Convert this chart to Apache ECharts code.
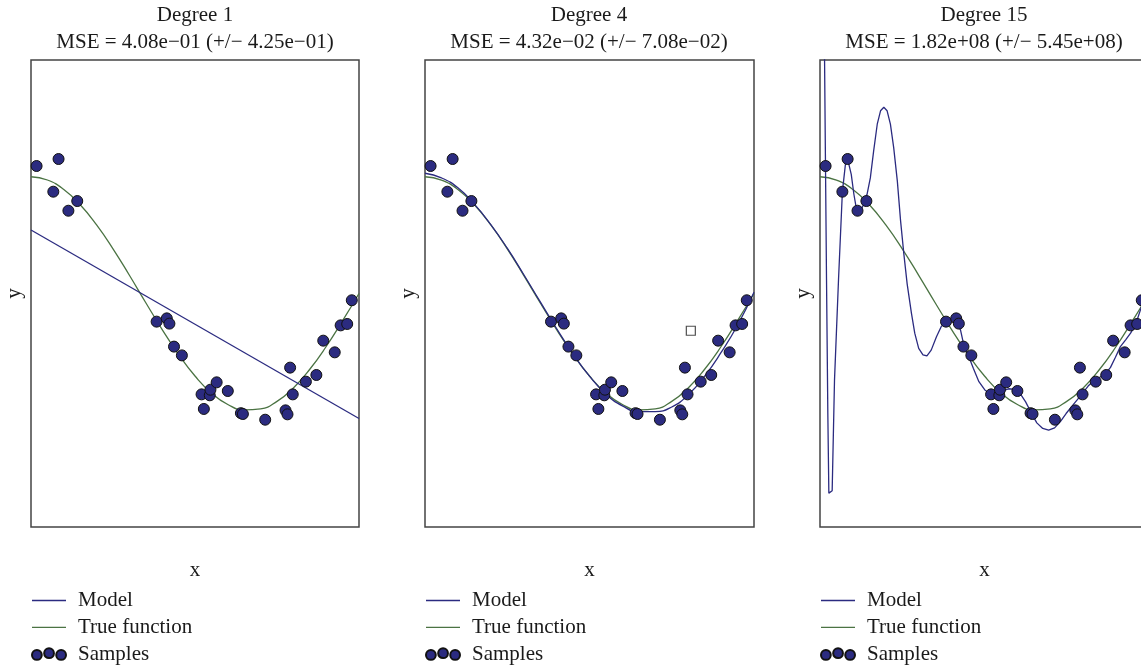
<!DOCTYPE html>
<html>
<head>
<meta charset="utf-8">
<script src="https://cdn.jsdelivr.net/npm/echarts@6/dist/echarts.min.js"></script>
<style>
html,body{margin:0;padding:0;background:#fff;}
#chart{width:1141px;height:665px;}
</style>
</head>
<body>
<div id="chart"></div>
<script>
// ---- Data ----
const degreeLabels = ['Degree 1', 'Degree 4', 'Degree 15'];
const mseLabels = [
  'MSE = 4.08e\u221201 (+/\u2212 4.25e\u221201)',
  'MSE = 4.32e\u221202 (+/\u2212 7.08e\u221202)',
  'MSE = 1.82e+08 (+/\u2212 5.45e+08)'
];
const legendNames = ['Model', 'True function', 'Samples'];

const sampleX = [0.017, 0.068, 0.084, 0.114, 0.141, 0.383, 0.414, 0.422, 0.436, 0.460,
  0.520, 0.527, 0.545, 0.547, 0.566, 0.600, 0.640, 0.646, 0.714, 0.776,
  0.782, 0.790, 0.798, 0.838, 0.870, 0.891, 0.926, 0.944, 0.964, 0.978];
const sampleY = [1.092, 0.872, 1.152, 0.709, 0.792, -0.241, -0.213, -0.258, -0.455, -0.530,
  -0.864, -0.989, -0.872, -0.824, -0.761, -0.835, -1.025, -1.032, -1.081, -1.001,
  -1.035, -0.635, -0.864, -0.755, -0.698, -0.404, -0.504, -0.273, -0.261, -0.058];

const trueX = [0, 0.05, 0.1, 0.15, 0.2, 0.25, 0.3, 0.35, 0.4, 0.45, 0.5,
  0.55, 0.6, 0.65, 0.7, 0.75, 0.8, 0.85, 0.9, 0.95, 1.0];
const trueY = [1.0, 0.972, 0.891, 0.760, 0.588, 0.383, 0.156, -0.079, -0.309, -0.523, -0.707,
  -0.853, -0.951, -0.997, -0.988, -0.924, -0.809, -0.649, -0.454, -0.233, 0.0];

const deg1X = [0, 1];
const deg1Y = [0.544, -1.071];

const deg4X = [0, 0.05, 0.1, 0.15, 0.2, 0.25, 0.3, 0.35, 0.4, 0.45, 0.5,
  0.55, 0.6, 0.65, 0.7, 0.75, 0.8, 0.85, 0.9, 0.95, 1.0];
const deg4Y = [1.03, 0.99, 0.905, 0.765, 0.590, 0.388, 0.163, -0.070, -0.300, -0.518, -0.708,
  -0.862, -0.962, -1.012, -1.012, -0.972, -0.868, -0.708, -0.505, -0.272, 0.010];

const deg15X = [0, 0.012, 0.0167, 0.0198, 0.0238, 0.0269, 0.037, 0.0441, 0.0563, 0.068,
  0.077, 0.082, 0.088, 0.095, 0.103, 0.110, 0.117, 0.125, 0.135, 0.143,
  0.153, 0.163, 0.174, 0.184, 0.194, 0.204, 0.214, 0.224, 0.235, 0.245,
  0.255, 0.265, 0.278, 0.288, 0.300, 0.313, 0.325, 0.338, 0.354, 0.369,
  0.383, 0.400, 0.415, 0.427, 0.437, 0.450, 0.466, 0.483, 0.501, 0.520,
  0.537, 0.552, 0.573, 0.593, 0.608, 0.625, 0.642, 0.659, 0.677, 0.695,
  0.713, 0.730, 0.748, 0.766, 0.781, 0.796, 0.815, 0.832, 0.849, 0.867,
  0.883, 0.898, 0.913, 0.929, 0.944, 0.959, 0.974, 0.985, 1.0];
const deg15Y = [12, 2.6, 1.09, 0.12, -1.03, -1.71, -1.69, -0.74, 0.12, 0.87,
  1.10, 1.175, 1.16, 1.02, 0.85, 0.735, 0.70, 0.72, 0.775, 0.85,
  0.99, 1.22, 1.45, 1.565, 1.595, 1.565, 1.45, 1.25, 0.965, 0.62,
  0.335, 0.08, -0.17, -0.34, -0.47, -0.525, -0.535, -0.485, -0.37, -0.28,
  -0.25, -0.222, -0.242, -0.312, -0.44, -0.525, -0.64, -0.755, -0.826, -0.864,
  -0.864, -0.836, -0.816, -0.822, -0.856, -0.928, -1.022, -1.108, -1.156, -1.171,
  -1.151, -1.10, -1.028, -0.965, -0.914, -0.862, -0.793, -0.747, -0.72, -0.69,
  -0.633, -0.546, -0.455, -0.397, -0.34, -0.268, -0.14, -0.05, 0.05];

const markerX = [0.808];
const markerY = [-0.319];

// ---- Build chart ----
const modelX = [deg1X, deg4X, deg15X];
const modelY = [deg1Y, deg4Y, deg15Y];
const zip = (xs, ys) => xs.map((x, i) => [x, ys[i]]);

const FONT = '"Liberation Serif", "DejaVu Serif", serif';
const NAVY = '#2b2b80';
const GREEN = '#4b7343';
const TXT = '#1a1a1a';
const panelLeft = [31, 425, 820];
const panelWidth = [328, 329, 329];
const gridTop = 60, gridHeight = 467;

const grids = [], xAxes = [], yAxes = [], titles = [], legends = [], series = [];
const samplesIcon = 'path://M0,6.5a4.7,4.7 0 1,0 9.4,0a4.7,4.7 0 1,0 -9.4,0Z M11.7,4.8a4.7,4.7 0 1,0 9.4,0a4.7,4.7 0 1,0 -9.4,0Z M23.3,6.5a4.7,4.7 0 1,0 9.4,0a4.7,4.7 0 1,0 -9.4,0Z';
const lineIcon = 'path://M0,0H34V1.3H0Z';

for (let i = 0; i < 3; i++) {
  grids.push({
    left: panelLeft[i], top: gridTop, width: panelWidth[i], height: gridHeight,
    containLabel: false, outerBoundsMode: 'none',
    show: true, borderColor: '#444', borderWidth: 1.5, backgroundColor: '#fff'
  });
  xAxes.push({
    gridIndex: i, type: 'value', min: 0, max: 1,
    axisLine: {show: false}, axisTick: {show: false}, axisLabel: {show: false}, splitLine: {show: false},
    name: 'x', nameLocation: 'middle', nameGap: 33,
    nameTextStyle: {fontFamily: FONT, fontSize: 21, color: TXT}
  });
  yAxes.push({
    gridIndex: i, type: 'value', min: -2, max: 2,
    axisLine: {show: false}, axisTick: {show: false}, axisLabel: {show: false}, splitLine: {show: false},
    name: 'y', nameLocation: 'middle', nameGap: 6,
    nameTextStyle: {fontFamily: FONT, fontSize: 21, color: TXT}
  });
  titles.push({
    text: degreeLabels[i] + '\n' + mseLabels[i],
    left: panelLeft[i] + 164, top: 2, textAlign: 'center', padding: 0,
    textStyle: {fontFamily: FONT, fontSize: 21, fontWeight: 'normal', color: TXT, lineHeight: 27}
  });
  legends.push({
    orient: 'vertical', left: panelLeft[i], top: 590, itemGap: 5.8, padding: 0,
    itemWidth: 34, itemHeight: 12, selectedMode: false,
    textStyle: {fontFamily: FONT, fontSize: 21, color: TXT, padding: [0, 0, 0, 7]},
    data: [
      {name: 'Model', icon: lineIcon},
      {name: 'True function', icon: lineIcon},
      {name: 'Samples', icon: samplesIcon}
    ]
  });
  series.push({
    name: 'Model', type: 'line', xAxisIndex: i, yAxisIndex: i,
    data: zip(modelX[i], modelY[i]), symbol: 'none', smooth: i === 1,
    clip: true, z: 3,
    itemStyle: {color: NAVY}, lineStyle: {color: NAVY, width: 1.3}
  });
  series.push({
    name: 'True function', type: 'line', xAxisIndex: i, yAxisIndex: i,
    data: zip(trueX, trueY), symbol: 'none', smooth: true, clip: true, z: 2,
    itemStyle: {color: GREEN}, lineStyle: {color: GREEN, width: 1.3}
  });
  series.push({
    name: 'Samples', type: 'scatter', xAxisIndex: i, yAxisIndex: i,
    data: zip(sampleX, sampleY), symbol: 'circle', symbolSize: 11, z: 4,
    itemStyle: {color: NAVY, borderColor: '#111', borderWidth: 1, opacity: 1}
  });
}
series.push({
  name: 'marker', type: 'scatter', xAxisIndex: 1, yAxisIndex: 1,
  data: zip(markerX, markerY), symbol: 'rect', symbolSize: 9, z: 5,
  itemStyle: {color: '#fff', borderColor: '#222', borderWidth: 1.2}
});

const chart = echarts.init(document.getElementById('chart'), null, {renderer: 'canvas'});
chart.setOption({
  animation: false,
  backgroundColor: '#fff',
  title: titles,
  legend: legends,
  grid: grids,
  xAxis: xAxes,
  yAxis: yAxes,
  series: series
});
</script>
</body>
</html>
